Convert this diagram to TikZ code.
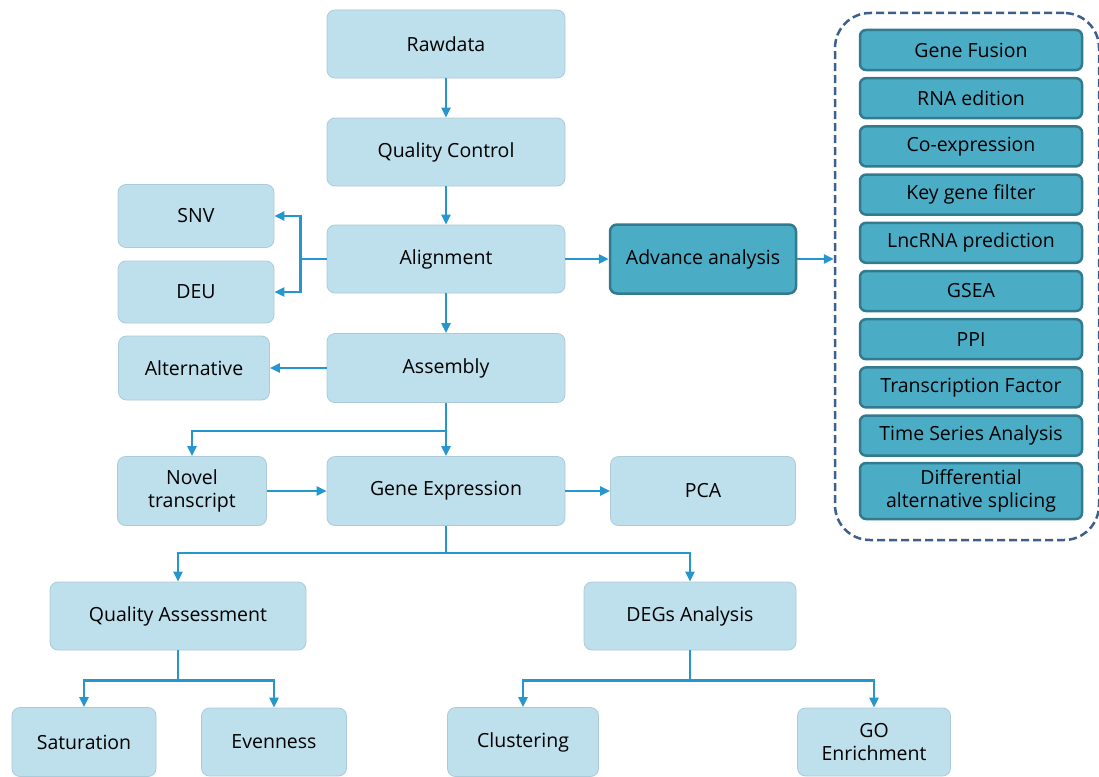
\documentclass[tikz,border=0pt]{standalone}
\usepackage{fontspec}
\setmainfont{Open Sans}
\usepackage{tikz}
\usetikzlibrary{arrows.meta}
\usepackage{xcolor}

\definecolor{boxfill}{RGB}{190,223,236}
\definecolor{boxline}{RGB}{172,203,218}
\definecolor{flowc}{RGB}{38,150,206}
\definecolor{advfill}{RGB}{75,172,198}
\definecolor{advline}{RGB}{52,122,142}
\definecolor{dashc}{RGB}{62,95,138}

\begin{document}
\begin{tikzpicture}[x=1pt, y=1pt,
  box/.style={draw=boxline, line width=0.8pt, fill=boxfill, rounded corners=8pt,
    font=\fontsize{19.5}{22.5}\selectfont, align=center, inner sep=2pt},
  advbox/.style={draw=advline, line width=2.5pt, fill=advfill, rounded corners=7pt,
    font=\fontsize{19.5}{22.5}\selectfont, align=center, inner sep=2pt},
  subbox/.style={advbox, minimum width=222pt, minimum height=40pt, rounded corners=6pt},
  panel/.style={draw=dashc, line width=2.5pt, dash pattern=on 8pt off 4pt, rounded corners=35pt},
  link/.style={flowc, line width=2.5pt},
  flow/.style={link, -{Triangle[length=10pt,width=9pt]}}]
\useasboundingbox (0,0) rectangle (1099,-776);

% Main column
\node[box, minimum width=238pt, minimum height=68pt] (raw) at (446,-44) {Rawdata};
\node[box, minimum width=238pt, minimum height=68pt] (qc) at (446,-152) {Quality Control};
\node[box, minimum width=238pt, minimum height=68pt] (align) at (446,-259) {Alignment};
\node[box, minimum width=238pt, minimum height=69pt] (asm) at (446,-368) {Assembly};
\node[box, minimum width=238pt, minimum height=69pt] (expr) at (446,-491) {Gene Expression};

% Side boxes
\node[box, minimum width=156pt, minimum height=63pt] (snv) at (196,-216) {SNV};
\node[box, minimum width=156pt, minimum height=62pt] (deu) at (196,-292) {DEU};
\node[box, minimum width=151pt, minimum height=64pt] (alt) at (194,-368) {Alternative};
\node[box, minimum width=149pt, minimum height=69pt] (novel) at (192,-491) {Novel\\transcript};
\node[box, minimum width=185pt, minimum height=69pt] (pca) at (703,-491) {PCA};
\node[advbox, minimum width=186pt, minimum height=69pt] (adv) at (703,-259) {Advance analysis};

% Lower levels
\node[box, minimum width=256pt, minimum height=68pt] (qa) at (178,-616) {Quality Assessment};
\node[box, minimum width=212pt, minimum height=68pt] (deg) at (690,-616) {DEGs Analysis};
\node[box, minimum width=144pt, minimum height=69pt] (sat) at (84,-742) {Saturation};
\node[box, minimum width=145pt, minimum height=68pt] (even) at (274,-742) {Evenness};
\node[box, minimum width=151pt, minimum height=69pt] (clu) at (523,-742) {Clustering};
\node[box, minimum width=153pt, minimum height=68pt] (go) at (874,-742) {GO\\Enrichment};

% Advanced analysis panel
\node[panel, minimum width=264pt, minimum height=527pt] (panel) at (967,-276.5) {};
\foreach \name [count=\i] in {Gene Fusion, RNA edition, Co-expression, Key gene filter,
    LncRNA prediction, GSEA, PPI, Transcription Factor, Time Series Analysis}
  \node[subbox] (sub\i) at (971,{-50-48.2*(\i-1)}) {\name};
\node[subbox, minimum height=56pt] (sub10) at (971,-491) {Differential\\alternative splicing};

% Connectors
\draw[flow] (raw) -- (qc);
\draw[flow] (qc) -- (align);
\draw[flow] (align.west) -- ++(-26,0) |- (snv.east);
\draw[flow] (align.west) -- ++(-26,0) |- (deu.east);
\draw[flow] (align) -- (adv);
\draw[flow] (adv.east) -- (adv.east -| panel.west);
\draw[flow] (align) -- (asm);
\draw[flow] (asm) -- (alt);
\draw[flow] (asm) -- (expr);
\draw[flow] (asm.south) ++(0,-28) -| (novel.north);
\draw[flow] (novel) -- (expr);
\draw[flow] (expr) -- (pca);
\draw[link] (expr.south) -- ++(0,-27) coordinate (esplit);
\draw[flow] (esplit) -| (qa.north);
\draw[flow] (esplit) -| (deg.north);
\draw[link] (qa.south) -- ++(0,-30) coordinate (qsplit);
\draw[flow] (qsplit) -| (sat.north);
\draw[flow] (qsplit) -| (even.north);
\draw[link] (deg.south) -- ++(0,-30) coordinate (dsplit);
\draw[flow] (dsplit) -| (clu.north);
\draw[flow] (dsplit) -| (go.north);
\end{tikzpicture}
\end{document}
